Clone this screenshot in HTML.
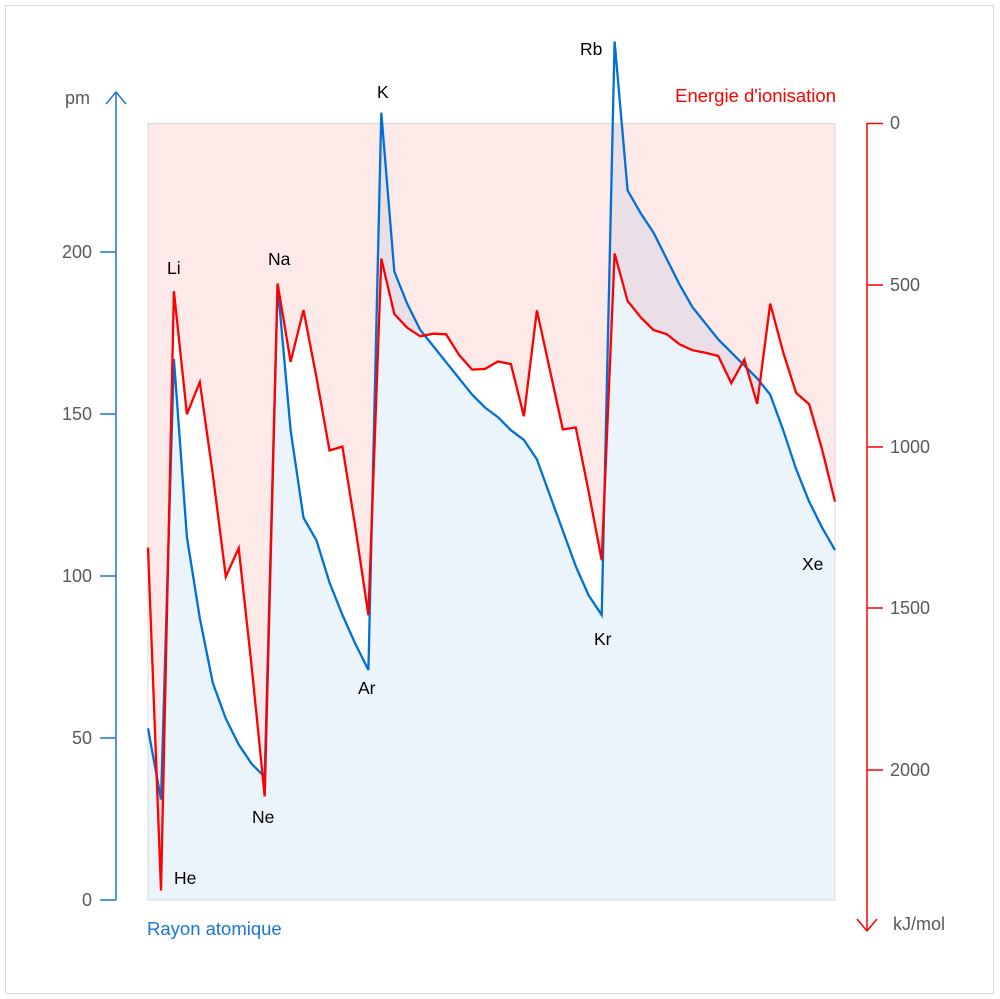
<!DOCTYPE html>
<html><head><meta charset="utf-8"><style>
html,body{margin:0;padding:0;background:#fff;}
svg{display:block;font-family:"Liberation Sans",sans-serif;}
</style></head><body>
<svg id="s" width="1000" height="999" viewBox="0 0 1000 999">
<rect x="5.5" y="5.5" width="988" height="988" fill="#fff" stroke="#d9d9d9"/>
<defs><clipPath id="c"><rect x="148" y="123" width="687" height="777"/></clipPath></defs>
<g clip-path="url(#c)">
<polygon id="pf" fill="rgba(242,0,0,0.085)"/>
<polygon id="bf" fill="rgba(0,112,200,0.08)"/>
</g>
<rect x="148" y="123.5" width="687" height="776.5" fill="none" stroke="#d9d9d9"/>
<polyline id="bl" fill="none" stroke="#0070d8" stroke-width="2.3" stroke-linejoin="miter"/>
<polyline id="rl" fill="none" stroke="#ff0000" stroke-width="2.3"/>
<line x1="116" y1="92" x2="116" y2="900" stroke="#1a75d9" stroke-width="1.5"/>
<polyline points="106,104 116,92 126,104" fill="none" stroke="#1a75d9" stroke-width="1.5"/>
<g stroke="#1a75d9" stroke-width="1.5">
<line x1="100" x2="116" y1="252" y2="252"/><line x1="100" x2="116" y1="414" y2="414"/>
<line x1="100" x2="116" y1="576" y2="576"/><line x1="100" x2="116" y1="738" y2="738"/>
<line x1="100" x2="116" y1="900" y2="900"/></g>
<g fill="#595959" font-size="18" text-anchor="end">
<text x="92" y="258">200</text><text x="92" y="420">150</text><text x="92" y="582">100</text>
<text x="92" y="744">50</text><text x="92" y="906">0</text>
<text x="90" y="104">pm</text></g>
<line x1="867" y1="123" x2="867" y2="931" stroke="#ff0000" stroke-width="1.5"/>
<polyline points="857,919 867,931 877,919" fill="none" stroke="#ff0000" stroke-width="1.5"/>
<g stroke="#ff0000" stroke-width="1.5">
<line x1="867" x2="883" y1="123.5" y2="123.5"/><line x1="867" x2="883" y1="285" y2="285"/>
<line x1="867" x2="883" y1="447" y2="447"/><line x1="867" x2="883" y1="608" y2="608"/>
<line x1="867" x2="883" y1="770" y2="770"/></g>
<g fill="#595959" font-size="18">
<text x="890" y="129">0</text><text x="890" y="291">500</text><text x="890" y="453">1000</text>
<text x="890" y="614">1500</text><text x="890" y="776">2000</text>
<text x="893" y="930">kJ/mol</text></g>
<text x="836" y="102" fill="#ff0000" font-size="18.5" text-anchor="end">Energie d'ionisation</text>
<text x="147" y="935" fill="#1a75d9" font-size="18.5">Rayon atomique</text>
<g fill="#000" font-size="17.5">
<text x="167" y="274">Li</text><text x="174" y="884">He</text><text x="268" y="265">Na</text>
<text x="252" y="823">Ne</text><text x="377" y="98">K</text><text x="358" y="694">Ar</text>
<text x="580" y="55">Rb</text><text x="594" y="645">Kr</text><text x="802" y="570">Xe</text></g>
</svg>
<script>
var r=[53,31,167,112,87,67,56,48,42,38,190,145,118,111,98,88,79,71,243,194,184,176,171,166,161,156,152,149,145,142,136,125,114,103,94,88,265,219,212,206,198,190,183,178,173,169,165,161,156,145,133,123,115,108];
var e=[1312,2372,520,900,801,1086,1402,1314,1681,2081,496,738,578,787,1012,1000,1251,1521,419,590,633,659,651,653,717,762,760,737,745,906,579,762,947,941,1140,1351,403,550,600,640,652,684,702,710,720,804,731,868,558,709,834,869,1008,1170];
var st=687/53,b=[],rr=[];
for(var i=0;i<54;i++){var x=148+i*st;b.push(x.toFixed(1)+","+(900-3.24*r[i]).toFixed(1));rr.push(x.toFixed(1)+","+(123+0.3236*e[i]).toFixed(1));}
document.getElementById("bl").setAttribute("points",b.join(" "));
document.getElementById("rl").setAttribute("points",rr.join(" "));
document.getElementById("bf").setAttribute("points",b.join(" ")+" 835,900 148,900");
document.getElementById("pf").setAttribute("points",rr.join(" ")+" 835,123 148,123");
</script>
</body></html>
